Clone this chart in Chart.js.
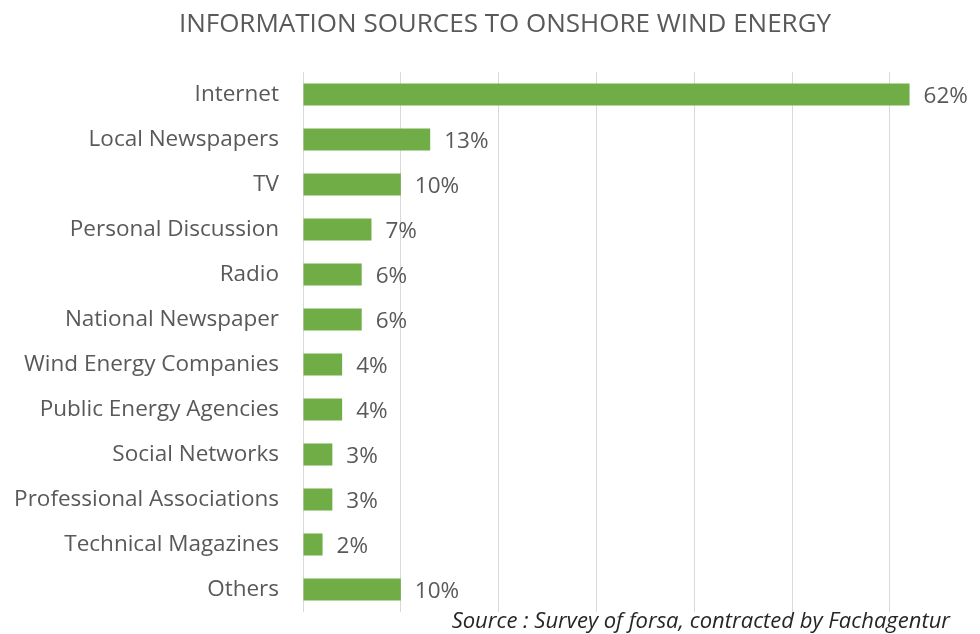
<!DOCTYPE html>
<html>
<head>
<meta charset="utf-8">
<script src="https://cdn.jsdelivr.net/npm/chart.js@4"></script>
<style>
  html, body { margin: 0; padding: 0; background: #fff; }
  #wrap { width: 980px; height: 634px; }
</style>
</head>
<body>
<div id="wrap"><canvas id="sources-chart"></canvas></div>
<script>
var chartTitle = "INFORMATION SOURCES TO ONSHORE WIND ENERGY";
var sourceNote = "Source : Survey of forsa, contracted by Fachagentur";
var categories = [
    "Internet", "Local Newspapers", "TV", "Personal Discussion", "Radio",
    "National Newspaper", "Wind Energy Companies", "Public Energy Agencies",
    "Social Networks", "Professional Associations", "Technical Magazines", "Others"
];
var shares = [62, 13, 10, 7, 6, 6, 4, 4, 3, 3, 2, 10];

var fontName = "'Open Sans', 'Noto Sans', sans-serif";
var textGrey = "#595959";

// value labels next to bars + title + source note
var extras = {
    id: 'extras',
    afterDatasetsDraw: function (chart) {
        var ctx = chart.ctx;
        var meta = chart.getDatasetMeta(0);
        ctx.save();
        ctx.fillStyle = textGrey;
        ctx.font = "22.5px " + fontName;
        ctx.textAlign = 'left';
        ctx.textBaseline = 'middle';
        meta.data.forEach(function (bar, i) {
            ctx.fillText(shares[i] + "%", bar.x + 14, bar.y + 2);
        });

        ctx.font = "26px " + fontName;
        ctx.textAlign = 'center';
        ctx.fillText(chartTitle, 505, 25);

        ctx.fillStyle = "#262626";
        ctx.font = "italic 22px " + fontName;
        ctx.textAlign = 'right';
        ctx.fillText(sourceNote, 950, 622);
        ctx.restore();
    }
};

var ctx = document.getElementById('sources-chart');
new Chart(ctx, {
    type: 'bar',
    data: {
        labels: categories,
        datasets: [{
            data: shares,
            backgroundColor: "#70AD47",
            categoryPercentage: 1,
            barPercentage: 0.49
        }]
    },
    plugins: [extras],
    options: {
        indexAxis: 'y',
        responsive: true,
        maintainAspectRatio: false,
        animation: false,
        layout: { padding: { top: 72, bottom: 22, left: 0, right: 0 } },
        plugins: {
            legend: { display: false },
            title: { display: false },
            tooltip: { enabled: false }
        },
        scales: {
            x: {
                min: 0,
                max: 69.2,
                afterFit: function (scale) {
                    scale.height = 0;
                    scale.paddingLeft = 0;
                    scale.paddingRight = 0;
                },
                ticks: { display: false, stepSize: 10 },
                grid: { color: "#d9d9d9", drawTicks: false },
                border: { display: false }
            },
            y: {
                afterFit: function (scale) {
                    scale.width = 303;
                    scale.paddingTop = 0;
                    scale.paddingBottom = 0;
                },
                ticks: { color: textGrey, font: { family: fontName, size: 22.5 }, padding: 24 },
                grid: { display: false, drawTicks: false },
                border: { display: false }
            }
        }
    }
});
</script>
</body>
</html>
